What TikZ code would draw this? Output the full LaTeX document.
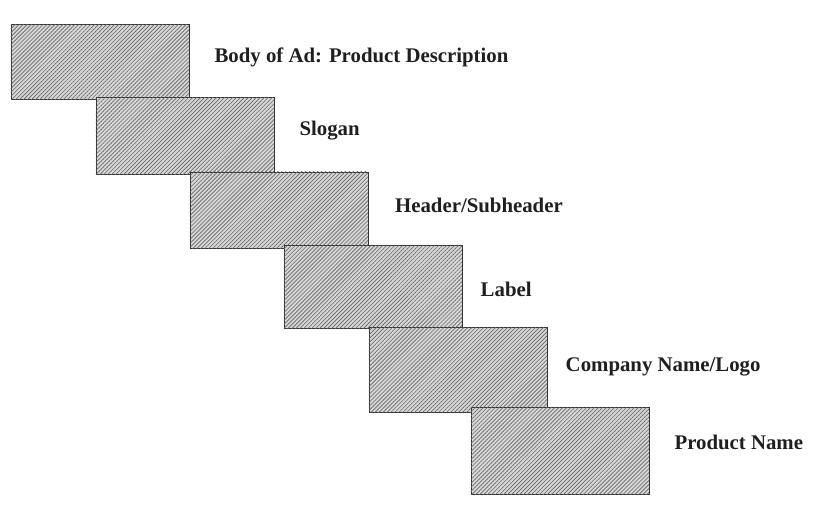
\documentclass[tikz,border=0pt]{standalone}
\usepackage{fontspec}
\setmainfont{Liberation Serif}
\usetikzlibrary{positioning,patterns.meta}

\begin{document}
\begin{tikzpicture}[x=0.025cm,y=-0.025cm,
  adbox/.style={draw=black!80,line width=0.6pt,fill=gray!32,inner sep=0pt,minimum width=4.45cm,
    postaction={pattern={Lines[angle=45,distance=2pt,line width=0.45pt]},pattern color=black!60}},
  adlabel/.style={font=\fontsize{14.8}{17}\selectfont\bfseries,text=black!88,inner sep=0pt,anchor=west}]
  \useasboundingbox (0,0) rectangle (820,505);

  \node[adbox,minimum height=1.88cm] (body) at (100,62) {};
  \node[adbox,minimum height=1.93cm] (slogan) at (185,136) {};
  \node[adbox,minimum height=1.90cm] (header) at (279,210) {};
  \node[adbox,minimum height=2.07cm] (lbl) at (373,287) {};
  \node[adbox,minimum height=2.12cm] (logo) at (458,370) {};
  \node[adbox,minimum height=2.17cm] (prod) at (560,451) {};

  \node[adlabel,right=0.62cm of body,yshift=3.5pt] (tbody) {Body of Ad: Product Description};
  \node[adlabel,right=0.62cm of slogan,yshift=4pt] (tslogan) {Slogan};
  \node[adlabel,right=0.66cm of header,yshift=3.5pt] (theader) {Header/Subheader};
  \node[adlabel,right=0.45cm of lbl,yshift=-2pt] (tlbl) {Label};
  \node[adlabel,right=0.45cm of logo,yshift=2pt] (tlogo) {Company Name/Logo};
  \node[adlabel,right=0.62cm of prod,yshift=6pt] (tprod) {Product Name};
\end{tikzpicture}
\end{document}
